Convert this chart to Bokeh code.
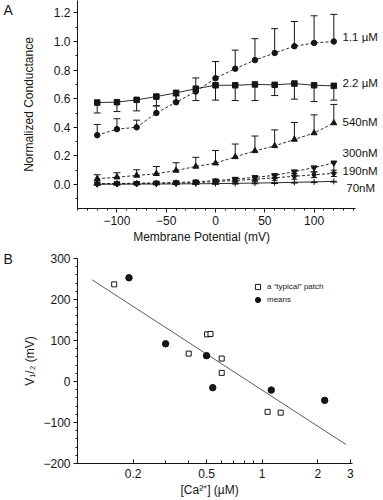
from bokeh.plotting import figure
from bokeh.layouts import column
from bokeh.models import (SingleIntervalTicker, FixedTicker, PrintfTickFormatter, Title, Label,
                          CustomJSTickFormatter, Range1d, Legend, LegendItem)
from bokeh.core.properties import value
from bokeh.embed import file_html
from bokeh.resources import INLINE

FONT = "Liberation Sans"
INK = "#151515"

# ---------------- Panel A data ----------------
potential_mv = [-120, -100, -80, -60, -40, -20, 0, 20, 40, 60, 80, 100, 120]

g_1100nM = [0.345, 0.387, 0.400, 0.500, 0.575, 0.650, 0.743, 0.810, 0.870, 0.920, 0.967, 0.990, 1.000]
e_1100nM = [0.075, 0.073, 0.050, 0.050, 0.045, 0.095, 0.117, 0.130, 0.150, 0.170, 0.173, 0.190, 0.190]

g_2200nM = [0.573, 0.576, 0.592, 0.615, 0.641, 0.670, 0.694, 0.694, 0.700, 0.697, 0.706, 0.694, 0.690]
e_2200nM = [0.073, 0.066, 0.077, 0.065, 0.060, 0.083, 0.104, 0.107, 0.113, 0.075, 0.109, 0.114, 0.100]

g_540nM = [0.040, 0.051, 0.063, 0.075, 0.098, 0.126, 0.149, 0.193, 0.235, 0.270, 0.315, 0.360, 0.430]
e_540nM = [0.028, 0.031, 0.040, 0.051, 0.054, 0.064, 0.089, 0.090, 0.104, 0.112, 0.119, 0.127, 0.130]

g_300nM = [0.006, 0.007, 0.009, 0.011, 0.014, 0.019, 0.027, 0.038, 0.050, 0.064, 0.090, 0.118, 0.152]
e_300nM = [0.008, 0.008, 0.008, 0.008, 0.010, 0.012, 0.012, 0.015, 0.020, 0.020, 0.025, 0.030, 0.070]

g_190nM = [0.004, 0.005, 0.006, 0.008, 0.010, 0.013, 0.020, 0.028, 0.037, 0.047, 0.057, 0.068, 0.078]
e_190nM = [0.008, 0.008, 0.008, 0.008, 0.010, 0.010, 0.012, 0.012, 0.015, 0.018, 0.020, 0.020, 0.022]

g_70nM = [0.002, 0.002, 0.003, 0.003, 0.004, 0.005, 0.006, 0.008, 0.010, 0.012, 0.015, 0.018, 0.022]
e_70nM = [0.005, 0.005, 0.005, 0.005, 0.005, 0.005, 0.005, 0.005, 0.005, 0.005, 0.005, 0.005, 0.005]

series_labels = ["1.1 µM", "2.2 µM", "540nM", "300nM", "190nM", "70nM"]
label_levels = [1.03, 0.708, 0.436, 0.219, 0.093, -0.026]

# ---------------- Panel B data ----------------
typical_ca_uM = [0.158, 0.40, 0.503, 0.525, 0.604, 0.604, 1.07, 1.26]
typical_v_mV = [237, 68, 115, 116, 56, 21, -74, -76]
means_ca_uM = [0.19, 0.30, 0.50, 0.54, 1.12, 2.18]
means_v_mV = [253, 92, 63, -15, -21, -46]
fit_ca_uM = [0.12, 2.85]
fit_v_mV = [248, -154]
ca_tick_values = [0.2, 0.5, 1, 2, 3]
ca_minor_values = [0.1, 0.2, 0.3, 0.4, 0.5, 0.6, 0.7, 0.8, 0.9, 1, 2, 3]


def style_axis(ax, fs="12px"):
    ax.axis_line_color = INK
    ax.axis_line_width = 1
    ax.major_tick_line_color = INK
    ax.minor_tick_line_color = INK
    ax.major_tick_in = 0
    ax.major_tick_out = 4
    ax.minor_tick_in = 0
    ax.minor_tick_out = 2
    ax.major_label_text_font = FONT
    ax.major_label_text_font_size = fs
    ax.major_label_text_color = INK
    ax.axis_label_text_font = FONT
    ax.axis_label_text_font_size = "12px"
    ax.axis_label_text_font_style = "normal"
    ax.axis_label_text_color = INK


W = 383

# ---------------- Figure A ----------------
pA = figure(width=W, height=250, x_range=Range1d(-140, 170.4), y_range=Range1d(-0.168, 1.287),
            output_backend="svg", toolbar_location=None,
            min_border_left=77, min_border_right=0, min_border_top=0, min_border_bottom=42)
pA.outline_line_color = None
pA.xgrid.visible = False
pA.ygrid.visible = False
style_axis(pA.xaxis[0])
style_axis(pA.yaxis[0])
pA.xaxis.bounds = (-140, 142)
pA.xaxis.ticker = SingleIntervalTicker(interval=50, num_minor_ticks=5)
pA.yaxis.ticker = SingleIntervalTicker(interval=0.2, num_minor_ticks=2)
pA.yaxis.formatter = PrintfTickFormatter(format="%.1f")
pA.yaxis.major_label_standoff = 3
pA.xaxis.major_label_standoff = 3
pA.yaxis.axis_label = "Normalized Conductance"
pA.yaxis.axis_label_standoff = 15
pA.add_layout(Title(text="Membrane Potential (mV)", align="left", offset=55.7, standoff=0,
                    text_font=FONT, text_font_size="12px", text_font_style="normal",
                    text_color=INK), "below")
pA.add_layout(Label(x=-215, y=1.28, text="A", text_font=FONT, text_font_size="14px",
                    text_color=INK, text_baseline="top", text_align="left"), "left")


def draw_series(p, y, e, marker, size, dash, mode):
    x = potential_mv
    up = [a + b for a, b in zip(y, e)]
    dn = [a - b for a, b in zip(y, e)]
    p.line(x, y, line_color=INK, line_width=0.9, line_dash=dash)
    if mode == "up":
        p.segment(x0=x, y0=y, x1=x, y1=up, line_color=INK, line_width=1)
        p.scatter(x, up, marker="dash", size=7, line_color=INK, line_width=1)
    elif mode == "down":
        p.segment(x0=x, y0=dn, x1=x, y1=y, line_color=INK, line_width=1)
        p.scatter(x, dn, marker="dash", size=7, line_color=INK, line_width=1)
    else:
        p.segment(x0=x, y0=dn, x1=x, y1=up, line_color=INK, line_width=1)
        p.scatter(x, up, marker="dash", size=6, line_color=INK, line_width=1)
        p.scatter(x, dn, marker="dash", size=6, line_color=INK, line_width=1)
    p.scatter(x, y, marker=marker, size=size, fill_color=INK, line_color=INK, line_width=1)


draw_series(pA, g_70nM, e_70nM, "cross", 6, "solid", "down")
draw_series(pA, g_190nM, e_190nM, "diamond", 6.5, "3 2", "both")
draw_series(pA, g_300nM, e_300nM, "inverted_triangle", 6, "3 2", "down")
draw_series(pA, g_540nM, e_540nM, "triangle", 6, "3 2", "up")
draw_series(pA, g_2200nM, e_2200nM, "square", 5.5, "solid", "down")
draw_series(pA, g_1100nM, e_1100nM, "circle", 5.5, "3 2", "up")

label_x = [128.8, 128.8, 128.8, 128.8, 128.8, 132.6]
pA.text(x=label_x, y=label_levels, text=series_labels, text_font=value(FONT),
        text_font_size="11.5px", text_color=INK, text_baseline="middle", text_align="left")

# ---------------- Figure B ----------------
pB = figure(width=W, height=250, x_axis_type="log", x_range=Range1d(0.1, 4.54),
            y_range=Range1d(-200, 300), output_backend="svg", toolbar_location=None,
            min_border_left=77, min_border_right=0, min_border_top=8, min_border_bottom=37)
pB.outline_line_color = None
pB.xgrid.visible = False
pB.ygrid.visible = False
style_axis(pB.xaxis[0])
style_axis(pB.yaxis[0])
pB.xaxis.bounds = (0.1, 3.08)
pB.xaxis.ticker = FixedTicker(ticks=ca_tick_values, minor_ticks=ca_minor_values)
pB.xaxis.formatter = CustomJSTickFormatter(code="return tick.toString();")
pB.xaxis.major_tick_out = 0
pB.xaxis.major_tick_in = 4
pB.xaxis.minor_tick_out = 0
pB.xaxis.minor_tick_in = 3
pB.xaxis.major_label_standoff = 5
pB.yaxis.ticker = SingleIntervalTicker(interval=100, num_minor_ticks=5)
pB.yaxis.major_label_standoff = 3
pB.yaxis.axis_label = "V₁/₂ (mV)"
pB.yaxis.axis_label_standoff = 3
pB.add_layout(Title(text="[Ca²⁺] (µM)", align="left", offset=103, standoff=0,
                    text_font=FONT, text_font_size="12px", text_font_style="normal",
                    text_color=INK), "below")
pB.add_layout(Label(x=0.0398, y=300, text="B", text_font=FONT, text_font_size="14px",
                    text_color=INK, text_baseline="middle", text_align="left"), "left")

pB.line(fit_ca_uM, fit_v_mV, line_color="#333333", line_width=0.8)
sq = pB.scatter(typical_ca_uM, typical_v_mV, marker="square", size=5, fill_color="white",
                line_color=INK, line_width=1)
mc = pB.scatter(means_ca_uM, means_v_mV, marker="circle", size=6.5, fill_color=INK,
                line_color=INK)

leg = Legend(items=[LegendItem(label="a “typical” patch", renderers=[sq]),
                    LegendItem(label="means", renderers=[mc])],
             location=(174, 157), border_line_color=None, background_fill_alpha=0,
             label_text_font=FONT, label_text_font_size="8px", label_text_color=INK,
             glyph_width=13, glyph_height=13, label_height=10, spacing=0, padding=0,
             margin=0, label_standoff=3)
pB.add_layout(leg)

layout = column(pA, pB, spacing=0)
open("out.html", "w").write(file_html(layout, INLINE))
